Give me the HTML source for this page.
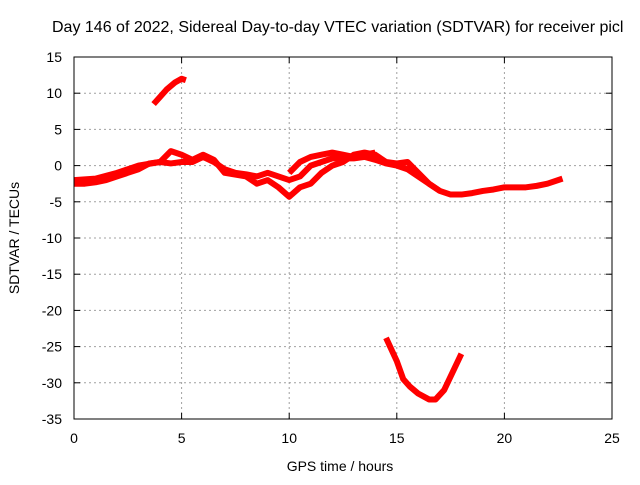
<!DOCTYPE html>
<html><head><meta charset="utf-8"><style>
body{margin:0;background:#fff;width:640px;height:480px;overflow:hidden}
svg{font-family:"Liberation Sans",sans-serif;font-size:14px}
</style></head><body>
<svg id="c" width="640" height="480">
<text x="52" y="32" font-size="16">Day 146 of 2022, Sidereal Day-to-day VTEC variation (SDTVAR) for receiver picl</text>
<text x="340" y="471" text-anchor="middle">GPS time / hours</text>
<text transform="translate(19,238) rotate(-90)" text-anchor="middle">SDTVAR / TECUs</text>
<g id="grid"></g><g id="marks"></g>
<rect x="74" y="57" width="538" height="362" fill="none" stroke="#000"/>
</svg>
<script>
const xTicks=[0,5,10,15,20,25];
const yTicks=[15,10,5,0,-5,-10,-15,-20,-25,-30,-35];
const seriesMain=[[0,-2.5],[0.5,-2.5],[1,-2.3],[1.5,-2],[2,-1.5],[2.5,-1],[3,-0.5],[3.5,0.3],[4,0.5],[4.5,0.3],[5,0.5],[5.5,0.5],[6,1.2],[6.5,0.5],[7,-0.5],[7.5,-1],[8,-1.2],[8.5,-1.5],[9,-1],[9.5,-1.5],[10,-2],[10.5,-1.5],[11,0],[11.5,0.5],[12,1],[12.5,1],[13,1],[13.5,1.2],[14,0.8],[14.5,0.3],[15,0],[15.5,-0.5],[16,-1.5],[16.5,-2.5],[17,-3.5],[17.5,-4],[18,-4],[18.5,-3.8],[19,-3.5],[19.5,-3.3],[20,-3],[20.5,-3],[21,-3],[21.5,-2.8],[22,-2.5],[22.7,-1.8]];
const seriesLoop=[[0,-2],[1,-1.8],[2,-1],[3,0],[4,0.5],[4.5,2],[5,1.5],[5.5,0.8],[6,1.5],[6.5,0.8],[7,-1],[8,-1.5],[8.5,-2.5],[9,-2],[9.5,-3],[10,-4.3],[10.5,-3],[11,-2.5],[11.5,-1],[12,0],[12.5,0.5],[13,1.5],[13.5,1.8],[14,1.5],[14.5,0.5],[15,0.3],[15.5,0.5],[16,-1],[16.5,-2.5],[17,-3.5]];
const seriesUpper=[[10,-1],[10.5,0.5],[11,1.2],[11.5,1.5],[12,1.8],[12.5,1.5],[13,1.2],[13.5,1.5],[14,1.8]];
const seriesSpike=[[3.7,8.5],[4,9.5],[4.3,10.5],[4.7,11.5],[5,12],[5.2,11.8]];
const seriesDip=[[14.5,-23.8],[15,-27],[15.3,-29.5],[15.6,-30.5],[16,-31.5],[16.5,-32.3],[16.8,-32.3],[17.2,-31],[17.6,-28.5],[18,-26]];
const X=v=>74+v*538/25, Y=v=>57+(15-v)*362/50;
const NS="http://www.w3.org/2000/svg";
const g=document.getElementById('grid'), m=document.getElementById('marks');
function mk(t,a,p){const e=document.createElementNS(NS,t);for(const k in a)e.setAttribute(k,a[k]);p.appendChild(e);return e;}
xTicks.forEach(t=>{
 if(t>0&&t<25){const l=mk('line',{x1:X(t),x2:X(t),y1:57,y2:419,stroke:'#a0a0a0','stroke-dasharray':'2,3'},g);
 
 }
 const tx=mk('text',{x:X(t),y:443,'text-anchor':'middle'},g);tx.textContent=t;
 
 
 mk('line',{x1:X(t),x2:X(t),y1:419,y2:413,stroke:'#000'},g);
 mk('line',{x1:X(t),x2:X(t),y1:57,y2:63,stroke:'#000'},g);
});
yTicks.forEach(t=>{
 if(t<15&&t>-35){const l=mk('line',{x1:74,x2:612,y1:Y(t),y2:Y(t),stroke:'#a0a0a0','stroke-dasharray':'2,3'},g);
 
 }
 const tx=mk('text',{x:62,y:Y(t)+5,'text-anchor':'end'},g);tx.textContent=t;
 
 
 mk('line',{x1:74,x2:80,y1:Y(t),y2:Y(t),stroke:'#000'},g);
 mk('line',{x1:606,x2:612,y1:Y(t),y2:Y(t),stroke:'#000'},g);
});
[[seriesMain,'series-main'],[seriesLoop,'series-loop'],[seriesUpper,'series-upper'],[seriesSpike,'series-spike'],[seriesDip,'series-dip']].forEach(([s,n])=>{
 const p=mk('polyline',{points:s.map(d=>X(d[0])+','+Y(d[1])).join(' '),fill:'none',stroke:'#ff0000','stroke-width':6,'stroke-linejoin':'round'},m);
 
 
});
</script>
</body></html>
